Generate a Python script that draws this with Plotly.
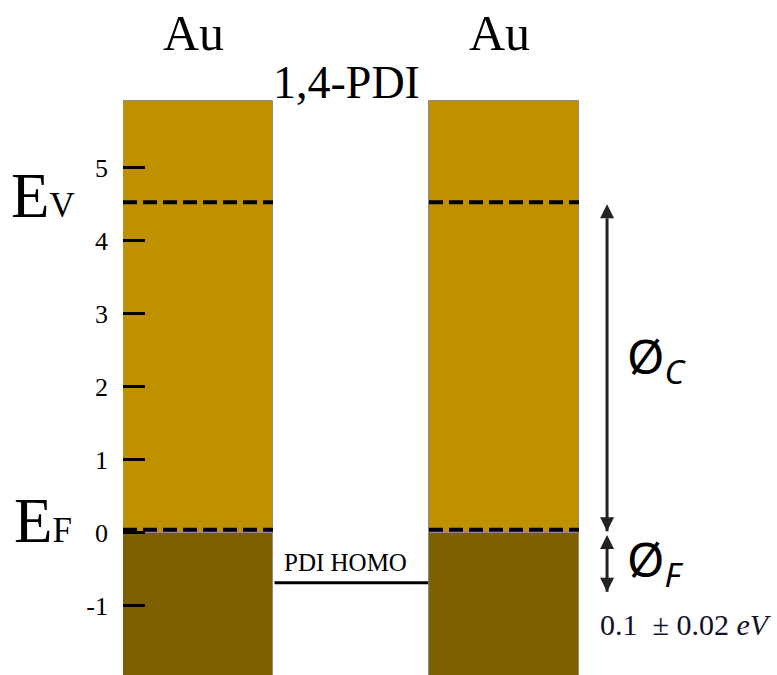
import plotly.graph_objects as go

# ---- data (energies in eV) ----
electrodes = ["Au", "Au"]
electrode_centers = [0.5, 2.54]
band_top = 5.92
band_bottom = -3.0
fermi_fill_top = 0.0
vacuum_level = 4.53
fermi_level = 0.04
homo_level = -0.685
phi_c_span = [0.02, 4.50]
phi_f_span = [-0.03, -0.81]
tick_vals = [5, 4, 3, 2, 1, 0, -1]
tick_text = ["5", "4", "3", "2", "1", "0", "-1"]

GOLD = "#BF9000"
BROWN = "#7F6000"
SERIF = "Liberation Serif"
MATH = "Noto Sans"

W, H, L = 777, 675, 123


def px(p):
    """pixel x -> paper x"""
    return (p - L) / (W - L)


def py(p):
    """pixel y -> paper y"""
    return 1 - p / H


fig = go.Figure()

fig.add_trace(go.Bar(
    x=electrode_centers, y=[band_top - fermi_fill_top] * 2, base=fermi_fill_top,
    width=1, marker=dict(color=GOLD, line=dict(color="#8c8c8c", width=1)),
    hoverinfo="skip", showlegend=False))
fig.add_trace(go.Bar(
    x=electrode_centers, y=[fermi_fill_top - band_bottom] * 2, base=band_bottom,
    width=1, marker=dict(color=BROWN, line=dict(color="#8c8c8c", width=1)),
    hoverinfo="skip", showlegend=False))

for lvl in (vacuum_level, fermi_level):
    xs, ys = [], []
    for c in electrode_centers:
        xs += [c - 0.5, c + 0.5, None]
        ys += [lvl, lvl, None]
    fig.add_trace(go.Scatter(x=xs, y=ys, mode="lines",
                             line=dict(color="black", width=4, dash="14px,6px"),
                             hoverinfo="skip", showlegend=False))

gap_left = electrode_centers[0] + 0.5
gap_right = electrode_centers[1] - 0.5
fig.add_trace(go.Scatter(x=[gap_left + 0.01, gap_right - 0.005], y=[homo_level, homo_level],
                         mode="lines", line=dict(color="black", width=3),
                         hoverinfo="skip", showlegend=False))

# double-headed arrows
arrow_x = 3.227
for lo_hi in (phi_c_span, phi_f_span):
    lo, hi = min(lo_hi), max(lo_hi)
    fig.add_trace(go.Scatter(
        x=[arrow_x, arrow_x], y=[lo, hi], mode="lines+markers",
        line=dict(color="#222222", width=3),
        marker=dict(symbol=["arrow-down", "arrow-up"], size=14, color="#222222",
                    line=dict(width=0)),
        hoverinfo="skip", showlegend=False, cliponaxis=False))

# labels
for c, name in zip(electrode_centers, electrodes):
    fig.add_annotation(x=c - 0.03, y=6.85, text=name, showarrow=False,
                       font=dict(family=SERIF, size=50, color="black"))
fig.add_annotation(x=(gap_left + gap_right) / 2 - 0.03, y=6.17, text="1,4-PDI",
                   showarrow=False, font=dict(family=SERIF, size=46, color="black"))
fig.add_annotation(x=(gap_left + gap_right) / 2 - 0.04, y=homo_level + 0.28,
                   text="PDI HOMO", showarrow=False,
                   font=dict(family=SERIF, size=25, color="black"))
fig.add_annotation(xref="paper", yref="paper", x=px(9), y=py(196),
                   xanchor="left", yanchor="middle",
                   text="E<span style='font-size:35px'>V</span>", showarrow=False,
                   font=dict(family=SERIF, size=63, color="black"))
fig.add_annotation(xref="paper", yref="paper", x=px(12), y=py(521),
                   xanchor="left", yanchor="middle",
                   text="E<span style='font-size:35px'>F</span>", showarrow=False,
                   font=dict(family=SERIF, size=63, color="black"))
fig.add_annotation(xref="paper", yref="paper", x=px(625), y=py(358),
                   xanchor="left", yanchor="middle",
                   text="Ø<sub><i>C</i></sub>", showarrow=False,
                   font=dict(family=MATH, size=48, color="black"))
fig.add_annotation(xref="paper", yref="paper", x=px(625), y=py(561),
                   xanchor="left", yanchor="middle",
                   text="Ø<sub><i>F</i></sub>", showarrow=False,
                   font=dict(family=MATH, size=48, color="black"))
fig.add_annotation(xref="paper", yref="paper", x=px(774), y=py(624),
                   xanchor="right", yanchor="middle",
                   text="0.1  ± 0.02 <i>eV</i>", showarrow=False,
                   font=dict(family=SERIF, size=30, color="#10102a"))

fig.update_layout(
    width=W, height=H,
    margin=dict(l=L, r=0, t=0, b=0),
    paper_bgcolor="white", plot_bgcolor="white",
    barmode="overlay", bargap=0,
    xaxis=dict(range=[0, (W - L) / 150], visible=False, fixedrange=True),
    yaxis=dict(range=[-1.95, 7.30], tickvals=tick_vals, ticktext=tick_text,
               ticks="inside", ticklen=22, tickwidth=3, tickcolor="black",
               showgrid=False, zeroline=False, showline=False,
               ticklabelstandoff=14,
               tickfont=dict(family=SERIF, size=26, color="black"),
               fixedrange=True),
)

fig.write_html("out.html", config={"displayModeBar": False},
               post_script="document.body.style.margin='0';")
